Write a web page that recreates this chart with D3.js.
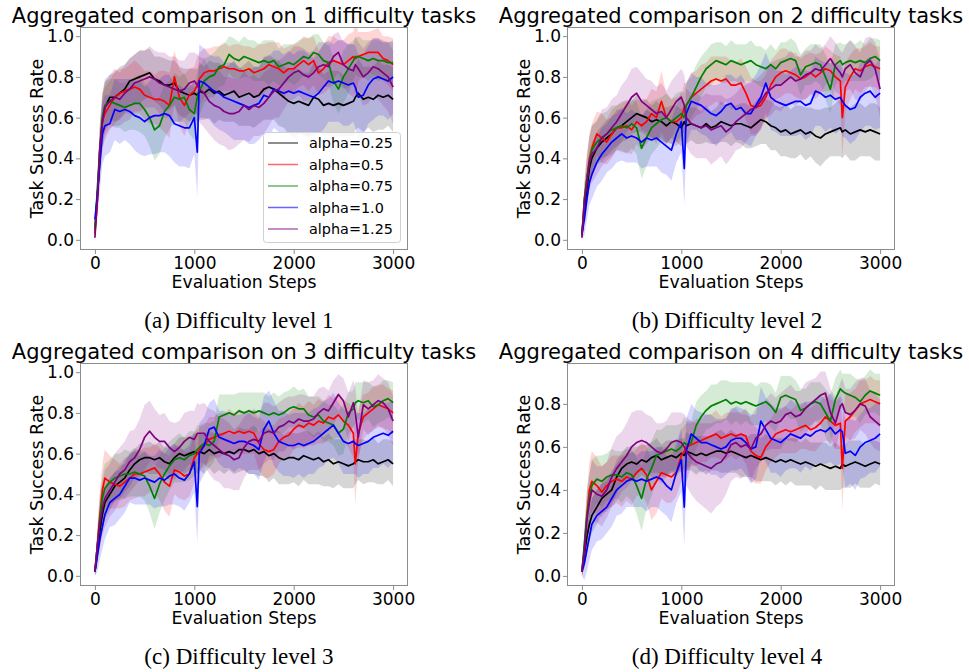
<!DOCTYPE html>
<html>
<head>
<meta charset="utf-8">
<script src="https://cdn.jsdelivr.net/npm/d3@7"></script>
<style>
  body { margin: 0; background: #fff; }
  svg { display: block; }
</style>
</head>
<body>
<div id="wrapper"></div>
<script>
// evaluation steps shared by every curve (x values)
const steps = [0,25,50,75,100,150,200,250,300,350,400,450,500,550,600,650,700,750,800,850,900,950,1000,1030,
  1050,1100,1150,1200,1250,1300,1350,1400,1450,1500,1550,1600,1650,1700,1750,1800,1850,1900,1950,2000,2050,2100,
  2150,2200,2250,2300,2350,2400,2450,2500,2550,2600,2620,2650,2700,2750,2800,2850,2900,2950,3000]

const seriesNames = ["alpha=0.25","alpha=0.5","alpha=0.75","alpha=1.0","alpha=1.25"]
const seriesColors = ["#000000","#ff0000","#008000","#0000ff","#800080"]
const xTicks = [0,1000,2000,3000]

// success rate in percent

// difficulty level 1
const lvl1_a025 = [5,22,40,58,65, 70,70,72,74,78,79,80,81,82,79,78,76,76,77,73,72,71,72, 71, 73,72,74,72,73,71,72,73,70,71,72,70,71,74,75,74,72,70,68,67,68,67,66,70,69,66,67,66,67,66,67,68, 70, 72,69,70,69,71,70,71,69]
const lvl1_a05  = [3,20,45,58,62, 66,70,72,73,74,75,74,71,70,69,69,68,66,80,70,66,71,73, 76, 79,82,83,83,84,85,84,84,83,83,84,82,83,84,86,85,84,82,84,84,86,88,86,88,82,84,87,88,87,86,88,90, 89, 90,91,92,92,92,89,88,86]
const lvl1_a075 = [5,25,45,60,66, 68,67,66,65,66,67,67,64,60,54,56,63,66,70,69,70,64,62, 70, 73,78,80,81,85,86,91,89,88,90,89,88,87,88,87,88,85,86,87,86,88,90,89,92,91,88,87,78,74,80,84,88, 90, 90,89,88,89,88,88,87,87]
const lvl1_a10  = [10,22,38,52,56, 57,64,63,64,63,61,60,58,60,61,61,62,61,57,56,55,55,60, 43, 78,77,75,73,72,70,69,68,67,66,65,66,67,71,70,74,73,72,73,72,73,72,71,70,72,75,78,77,78,77,76,77, 75, 70,71,76,79,80,79,78,80]
const lvl1_a125 = [1,20,45,58,65, 68,70,69,72,74,77,78,79,80,79,77,76,75,74,73,74,77,78, 76, 74,72,68,66,65,63,62,62,63,66,64,66,65,67,70,73,74,77,80,82,83,81,80,82,85,86,85,90,92,86,84,83, 86, 84,80,82,85,84,82,80,75]
// spread (half width of shaded band), percent
const lvl1_a025_sd = [3,8,12,12,12, 11,12,13,12,11,12,13,12,12,11,12,13,12,11,12,12,13,12, 13, 14,13,14,15,14,13,14,15,14,15,16,15,14,15,16,15,16,15,16,17,16,15,16,17,16,15,16,17,16,15,16,17, 16, 17,16,15,16,17,16,15,16]
const lvl1_a05_sd  = [2,8,12,13,13, 12,13,12,11,12,13,12,12,13,12,14,15,16,13,14,15,13,12, 14, 13,12,11,12,11,12,11,12,13,12,11,12,13,12,11,12,13,12,11,12,11,12,13,12,11,12,13,12,11,12,13,12, 20, 12,11,10,11,12,11,12,13]
const lvl1_a075_sd = [2,8,12,12,12, 11,12,11,12,12,13,14,13,14,15,14,13,12,12,11,12,12,13, 12, 12,11,10,11,10,10,9,10,9,10,9,10,9,10,11,10,9,10,9,10,10,9,10,9,10,9,10,11,12,13,12,10, 9, 10,9,10,9,10,9,10,10]
const lvl1_a10_sd  = [3,10,14,15,15, 14,15,16,15,16,17,18,17,18,19,18,19,20,19,20,19,20,18, 22, 18,17,16,17,18,17,18,19,18,17,18,19,18,19,20,19,20,19,20,19,20,21,20,19,20,21,20,19,20,21,20,19, 20, 21,20,19,20,19,18,19,18]
const lvl1_a125_sd = [2,8,12,14,14, 13,14,13,14,15,14,15,14,15,14,15,16,15,16,15,14,15,14, 15, 16,17,16,17,18,17,18,17,16,17,16,15,14,15,14,13,14,13,12,13,12,13,12,11,12,11,10,11,10,11,12,13, 14, 13,14,15,14,15,16,17,18]

// difficulty level 2
const lvl2_a025 = [3,15,25,35,40, 45,48,50,52,55,56,58,60,62,61,60,58,59,58,56,58,57,55, 58, 56,57,56,55,57,55,56,58,57,56,57,57,56,55,57,59,58,56,55,53,54,52,53,54,52,53,51,50,52,53,54,55, 53, 54,52,53,54,53,54,53,52]
const lvl2_a05  = [2,20,30,40,45, 52,50,48,52,55,55,56,54,58,56,58,62,60,68,60,58,58,60, 65, 66,70,72,74,76,78,79,78,79,76,76,77,72,66,65,66,70,76,80,82,83,82,81,79,80,82,80,82,84,83,80,78, 60, 75,80,84,83,85,86,85,84]
const lvl2_a075 = [2,20,30,38,44, 48,50,52,54,55,56,55,57,55,45,50,55,57,59,60,58,60,62, 60, 66,70,75,80,84,86,88,87,86,88,87,86,87,88,86,85,84,86,84,87,88,89,88,81,85,86,87,86,80,74,86,88, 86, 87,88,87,88,87,89,90,88]
const lvl2_a10  = [3,10,20,28,32, 38,42,45,48,50,52,50,51,50,48,50,49,50,48,46,44,52,58, 35, 62,68,67,66,64,62,61,63,66,67,64,65,62,62,66,70,77,70,68,67,66,67,68,68,66,67,73,72,70,71,69,70, 68, 66,64,65,70,72,73,70,72]
const lvl2_a125 = [1,18,28,38,42, 45,50,52,55,58,62,66,70,72,68,66,64,62,63,60,64,68,70, 66, 60,57,56,55,56,54,55,56,53,55,58,60,62,64,65,68,72,74,76,76,78,80,78,79,81,82,84,83,86,89,85,82, 80, 84,86,82,80,86,88,84,74]
const lvl2_a025_sd = [2,6,8,8,8, 8,8,9,8,9,8,9,8,9,8,9,8,9,8,9,8,9,9, 10, 9,8,9,8,9,8,9,10,9,10,9,10,11,10,11,12,11,12,11,12,13,12,13,12,13,12,13,14,13,12,13,14, 13, 12,13,14,13,12,13,14,13]
const lvl2_a05_sd  = [2,8,12,12,12, 11,12,11,12,11,12,13,12,11,12,11,12,13,15,12,11,12,11, 12, 11,12,11,12,11,12,11,12,11,12,11,12,13,14,13,12,11,12,11,12,11,10,11,10,11,10,11,10,11,10,11,12, 20, 12,11,10,11,10,11,10,11]
const lvl2_a075_sd = [2,8,12,12,12, 11,12,11,12,11,12,13,12,13,15,14,13,12,11,12,11,12,11, 12, 11,10,11,10,9,10,9,10,9,10,9,10,9,10,9,10,9,10,9,10,9,10,9,10,9,10,9,10,11,12,10,9, 10, 9,10,9,10,9,10,9,10]
const lvl2_a10_sd  = [2,8,10,11,12, 12,13,12,13,12,13,12,13,12,13,14,13,14,15,14,15,14,15, 18, 15,14,13,14,13,14,15,14,15,14,15,16,15,16,15,16,15,16,15,16,15,16,17,16,17,16,17,16,17,16,17,16, 17, 16,17,16,17,16,17,16,17]
const lvl2_a125_sd = [2,8,12,13,14, 13,14,13,14,13,14,13,14,13,14,13,14,13,14,13,14,13,14, 15, 14,15,16,15,16,17,16,15,16,15,14,15,14,13,14,13,12,13,12,13,12,13,12,11,12,11,12,11,10,11,12,11, 12, 11,12,13,12,13,12,13,14]

// difficulty level 3
const lvl3_a025 = [2,12,22,30,36, 40,44,46,48,52,55,57,58,58,57,58,56,55,58,60,59,60,61, 60, 61,60,62,60,61,60,61,60,62,62,61,62,60,61,59,60,58,57,58,58,57,59,58,57,58,56,57,55,56,55,54,55, 56, 57,56,56,57,55,56,57,55]
const lvl3_a05  = [2,15,30,42,48, 46,45,44,46,48,50,50,51,52,53,50,46,44,52,51,49,50,58, 60, 62,64,67,68,69,70,71,70,71,70,71,70,65,62,61,62,66,68,69,72,74,73,75,74,76,75,78,77,79,76,74,70, 55, 70,78,80,82,84,83,82,80]
const lvl3_a075 = [2,15,28,38,43, 46,48,49,50,50,51,50,49,44,38,45,50,54,57,58,57,59,60, 62, 63,65,64,66,78,79,80,79,81,80,81,80,81,80,79,80,79,80,82,83,82,82,79,78,79,76,75,74,70,72,80,82, 85, 86,85,86,83,84,86,87,85]
const lvl3_a10  = [2,10,18,24,30, 36,38,40,44,48,48,47,48,47,46,48,47,49,50,48,47,50,56, 34, 60,64,72,73,68,67,66,65,66,66,65,64,62,72,76,70,66,65,64,64,65,64,65,66,68,70,72,74,70,66,65,66, 65, 64,65,66,68,69,70,69,71]
const lvl3_a125 = [2,15,26,33,38, 42,46,50,52,56,58,62,68,71,68,66,66,63,61,63,66,68,67, 70, 70,70,66,64,62,60,59,57,58,63,66,67,66,70,71,70,73,74,76,75,77,76,76,77,80,82,81,85,89,86,78,85, 80, 68,84,82,84,86,85,82,76]
const lvl3_a025_sd = [2,6,8,8,8, 8,7,8,7,8,7,8,7,8,7,8,7,8,7,8,9,8,9, 10, 9,10,9,10,9,10,9,10,11,10,11,12,11,12,13,12,13,12,13,12,13,12,13,12,13,12,13,12,11,12,11,12, 11, 10,11,10,11,10,11,10,11]
const lvl3_a05_sd  = [2,8,12,13,14, 13,12,11,12,11,12,11,12,11,12,13,14,15,12,13,12,11,12, 12, 11,10,11,10,11,10,11,10,11,10,11,10,13,14,13,12,11,10,11,10,11,10,11,10,11,10,11,10,11,10,11,12, 20, 12,11,10,11,10,11,10,11]
const lvl3_a075_sd = [2,8,12,12,12, 11,12,11,12,11,12,11,12,13,15,14,13,12,11,12,11,12,11, 12, 11,10,11,10,11,10,9,10,9,10,9,10,9,10,9,10,9,10,9,10,9,10,9,10,9,10,9,10,11,12,10,9, 10, 9,10,9,10,9,10,9,10]
const lvl3_a10_sd  = [2,8,10,11,12, 12,13,12,13,12,13,12,13,12,13,14,13,14,15,14,15,14,15, 18, 15,14,13,14,13,14,13,14,13,14,15,14,15,16,15,16,15,16,15,16,15,16,15,16,15,16,15,16,15,16,15,16, 15, 16,15,16,15,16,15,16,15]
const lvl3_a125_sd = [2,8,12,13,14, 13,14,13,14,15,14,15,16,15,14,13,14,13,14,13,14,13,14, 15, 14,15,16,17,16,17,16,15,16,15,14,15,14,15,14,13,12,13,12,13,12,13,12,11,12,11,10,11,10,11,12,11, 12, 11,12,13,12,13,12,13,12]

// difficulty level 4
const lvl4_a025 = [2,10,18,24,28, 32,36,38,40,46,50,52,53,52,54,53,55,56,54,55,56,55,57, 56, 58,57,56,57,56,57,58,58,57,58,57,56,55,56,55,54,55,54,53,54,53,54,53,52,53,52,51,52,51,50,51,50, 52, 51,52,53,52,51,52,53,52]
const lvl4_a05  = [2,12,28,40,44, 42,39,42,44,45,44,46,45,48,50,47,40,44,48,47,46,48,56, 58, 60,61,62,63,64,65,66,64,65,66,65,66,65,58,56,55,60,63,66,67,68,67,68,69,70,68,69,71,74,72,70,71, 50, 72,74,77,80,81,82,81,80]
const lvl4_a075 = [2,15,28,36,42, 45,44,46,47,47,46,48,47,42,36,45,50,56,57,58,59,58,60, 62, 61,62,70,74,77,79,80,81,82,80,81,80,81,80,79,80,81,79,76,83,84,83,82,77,78,80,81,80,76,72,82,87, 86, 85,84,83,81,84,86,85,84]
const lvl4_a10  = [2,6,12,18,24, 28,30,32,36,40,42,44,45,44,45,44,45,46,45,42,40,48,54, 32, 58,66,64,62,62,61,60,59,60,63,64,64,62,59,60,72,68,64,63,62,64,66,65,64,66,65,67,68,67,69,66,68, 67, 57,58,56,60,62,63,64,66]
const lvl4_a125 = [2,12,26,34,40, 38,37,40,46,50,53,56,60,62,63,62,60,58,57,59,62,63,62, 60, 58,55,53,52,51,50,52,53,56,61,62,60,61,59,64,66,70,72,71,72,75,76,74,75,78,80,82,84,85,76,71,79, 80, 76,75,77,80,79,74,72,70]
const lvl4_a025_sd = [2,6,8,8,8, 8,7,8,7,8,7,8,7,8,7,8,7,8,7,8,7,8,7, 8, 9,8,9,8,9,8,9,10,9,10,9,10,9,10,11,10,11,10,11,10,11,10,11,10,11,10,11,10,11,10,11,10, 11, 10,11,10,11,10,11,10,10]
const lvl4_a05_sd  = [2,8,12,13,14, 13,12,11,12,11,12,11,12,11,12,13,14,15,12,13,12,11,12, 12, 11,10,11,10,11,10,11,10,11,10,11,10,13,14,13,12,11,10,11,10,11,10,11,10,11,10,11,10,11,10,11,12, 20, 12,11,10,11,10,11,10,11]
const lvl4_a075_sd = [2,8,12,12,12, 11,12,11,12,11,12,11,12,13,15,14,13,12,11,12,11,12,11, 12, 11,10,11,10,9,10,9,10,9,10,9,10,9,10,9,10,9,10,9,10,9,10,9,10,9,10,9,10,11,12,10,9, 8, 9,10,9,10,9,10,9,10]
const lvl4_a10_sd  = [2,8,10,11,12, 12,13,12,13,12,13,12,13,12,13,14,13,14,15,14,15,14,15, 18, 15,14,13,14,13,14,13,14,13,14,15,14,15,16,15,16,15,16,15,16,15,16,15,16,15,16,15,16,15,16,15,16, 15, 16,15,16,15,16,15,16,15]
const lvl4_a125_sd = [2,8,12,13,14, 13,14,13,14,15,14,15,16,15,14,13,14,13,14,13,14,13,14, 15, 16,17,18,19,20,21,20,19,18,17,16,15,14,15,14,13,12,13,12,13,12,13,12,11,12,11,10,11,10,11,12,11, 12, 11,12,13,12,13,12,13,12]

const panelTitles = [1,2,3,4].map(n => `Aggregated comparison on ${n} difficulty tasks`)
const panelCaptions = ["(a) Difficulty level 1","(b) Difficulty level 2","(c) Difficulty level 3","(d) Difficulty level 4"]

// 1) layout
const dimensions = {
    width: 969,
    height: 672,
    plotWidth: 328,
    plotHeight: 223,
}

const panels = [
    {left: 80,  top: 27,  capX: 239, yDomain: [-0.05, 1.045], yTicks: [0,0.2,0.4,0.6,0.8,1.0], legend: true,
     means: [lvl1_a025,lvl1_a05,lvl1_a075,lvl1_a10,lvl1_a125],
     spreads: [lvl1_a025_sd,lvl1_a05_sd,lvl1_a075_sd,lvl1_a10_sd,lvl1_a125_sd]},
    {left: 567, top: 27,  capX: 727, yDomain: [-0.05, 1.045], yTicks: [0,0.2,0.4,0.6,0.8,1.0],
     means: [lvl2_a025,lvl2_a05,lvl2_a075,lvl2_a10,lvl2_a125],
     spreads: [lvl2_a025_sd,lvl2_a05_sd,lvl2_a075_sd,lvl2_a10_sd,lvl2_a125_sd]},
    {left: 80,  top: 363, capX: 239, yDomain: [-0.05, 1.045], yTicks: [0,0.2,0.4,0.6,0.8,1.0],
     means: [lvl3_a025,lvl3_a05,lvl3_a075,lvl3_a10,lvl3_a125],
     spreads: [lvl3_a025_sd,lvl3_a05_sd,lvl3_a075_sd,lvl3_a10_sd,lvl3_a125_sd]},
    {left: 567, top: 363, capX: 727, yDomain: [-0.047, 0.99], yTicks: [0,0.2,0.4,0.6,0.8],
     means: [lvl4_a025,lvl4_a05,lvl4_a075,lvl4_a10,lvl4_a125],
     spreads: [lvl4_a025_sd,lvl4_a05_sd,lvl4_a075_sd,lvl4_a10_sd,lvl4_a125_sd]},
]

// 2) canvas
const svg = d3.select("#wrapper")
    .append("svg")
    .attr("width", dimensions.width)
    .attr("height", dimensions.height)
    .style("font-family", "'DejaVu Sans', sans-serif")

const defs = svg.append("defs")

panels.forEach((p, pi) => drawPanel(p, pi))

function drawPanel(p, pi){
    const w = dimensions.plotWidth
    const h = dimensions.plotHeight

    // scales
    const xScale = d3.scaleLinear().domain([-150, 3150]).range([p.left, p.left + w])
    const yScale = d3.scaleLinear().domain(p.yDomain).range([p.top + h, p.top])

    const g = svg.append("g")

    defs.append("clipPath").attr("id", `clip${pi}`)
        .append("rect")
        .attr("x", p.left).attr("y", p.top)
        .attr("width", w).attr("height", h)

    const plot = g.append("g").attr("clip-path", `url(#clip${pi})`)

    // shaded bands first
    p.means.forEach((m, k) => {
        const sd = p.spreads[k]
        const area = d3.area()
            .x((d, i) => xScale(steps[i]))
            .y0((d, i) => yScale((d - sd[i]) / 100))
            .y1((d, i) => yScale((d + sd[i]) / 100))
        plot.append("path")
            .datum(m)
            .attr("d", area)
            .attr("fill", seriesColors[k])
            .attr("fill-opacity", 0.16)
    })

    // mean lines
    p.means.forEach((m, k) => {
        const line = d3.line()
            .x((d, i) => xScale(steps[i]))
            .y(d => yScale(d / 100))
        plot.append("path")
            .datum(m)
            .attr("d", line)
            .attr("fill", "none")
            .attr("stroke", seriesColors[k])
            .attr("stroke-width", 1.7)
            .attr("stroke-linejoin", "round")
    })

    // frame
    g.append("rect")
        .attr("x", p.left + 0.5).attr("y", p.top + 0.5)
        .attr("width", w - 1).attr("height", h - 1)
        .attr("fill", "none")
        .attr("stroke", "#8c8c8c")
        .attr("stroke-width", 1)

    // axes
    const xAxis = g.append("g")
        .attr("transform", `translate(0,${p.top + h})`)
        .call(d3.axisBottom(xScale).tickValues(xTicks).tickSize(4).tickPadding(2.5).tickFormat(d3.format("d")))
    const yAxis = g.append("g")
        .attr("transform", `translate(${p.left},0)`)
        .call(d3.axisLeft(yScale).tickValues(p.yTicks).tickSize(4).tickPadding(2).tickFormat(d3.format(".1f")))

    ;[xAxis, yAxis].forEach(ax => {
        ax.select(".domain").remove()
        ax.attr("font-family", "'DejaVu Sans', sans-serif").attr("font-size", 17)
        ax.selectAll(".tick line").attr("stroke", "#8c8c8c")
        ax.selectAll(".tick text").attr("fill", "#000")
    })

    // title and axis labels
    g.append("text")
        .attr("x", p.left + w / 2).attr("y", p.top - 4)
        .attr("text-anchor", "middle")
        .style("font-size", "21px")
        .text(panelTitles[pi])

    g.append("text")
        .attr("x", p.left + w / 2).attr("y", p.top + h + 38)
        .attr("text-anchor", "middle")
        .style("font-size", "17.3px")
        .text("Evaluation Steps")

    g.append("text")
        .attr("transform", `translate(${p.left - 37.5},${p.top + h / 2}) rotate(-90)`)
        .attr("text-anchor", "middle")
        .style("font-size", "17.5px")
        .text("Task Success Rate")

    // caption below the sub figure
    g.append("text")
        .attr("x", p.capX).attr("y", p.top + 301)
        .attr("text-anchor", "middle")
        .style("font-family", "'Liberation Serif', 'Times New Roman', serif")
        .style("font-size", "23px")
        .text(panelCaptions[pi])

    if (p.legend) drawLegend(g, p)
}

function drawLegend(g, p){
    const lx = p.left + 183
    const ly = p.top + 105
    const legend = g.append("g").attr("transform", `translate(${lx},${ly})`)
    legend.append("rect")
        .attr("x", 0.5).attr("y", 0.5)
        .attr("width", 137).attr("height", 110)
        .attr("rx", 3)
        .attr("fill", "#fff").attr("fill-opacity", 0.85)
        .attr("stroke", "#d0d0d0")

    const rows = legend.selectAll("g.row")
        .data(seriesNames)
        .enter()
        .append("g")
        .attr("class", "row")
        .attr("transform", (d, i) => `translate(0,${11 + i * 21.5})`)

    rows.append("line")
        .attr("x1", 5).attr("x2", 35)
        .attr("stroke", (d, i) => seriesColors[i])
        .attr("stroke-opacity", 0.6)
        .attr("stroke-width", 1.5)

    rows.append("text")
        .attr("x", 46).attr("dy", "0.36em")
        .style("font-size", "14.4px")
        .text(d => d)
}
</script>
</body>
</html>
